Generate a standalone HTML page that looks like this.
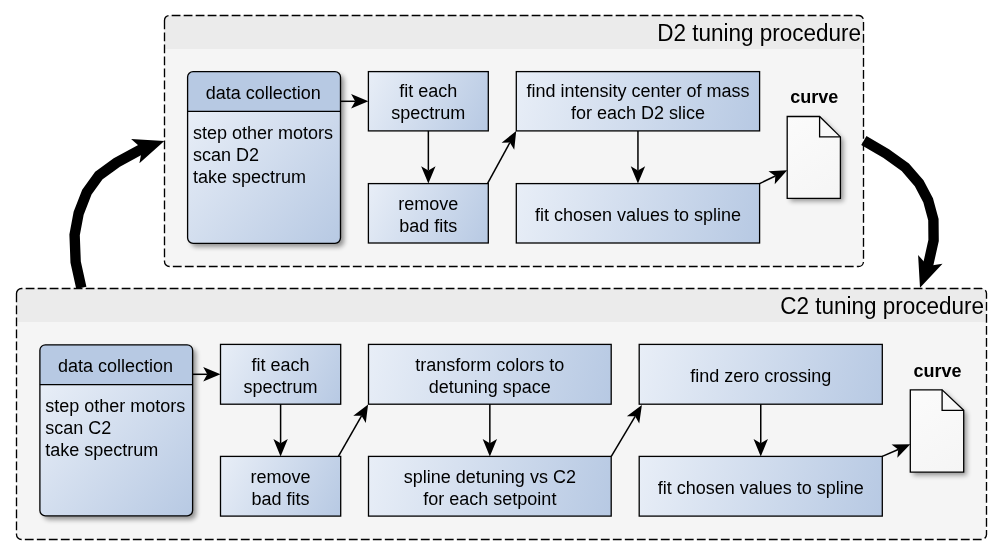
<!DOCTYPE html>
<html><head><meta charset="utf-8"><title>D2/C2 tuning procedure</title>
<style>html,body{margin:0;padding:0;background:#fff;width:1002px;height:555px;overflow:hidden}svg{display:block;will-change:transform}text{fill:#000}</style>
</head><body>
<svg width="1002" height="555" viewBox="0 0 1002 555" font-family="'Liberation Sans', sans-serif">
<defs>
<filter id="sh" x="-20%" y="-20%" width="140%" height="140%"><feGaussianBlur stdDeviation="2.8"/></filter>
<linearGradient id="g1" gradientUnits="userSpaceOnUse" x1="187.6" y1="111.3" x2="340.5" y2="243.3"><stop offset="0" stop-color="#E8EEF7"/><stop offset="1" stop-color="#B7C9E3"/></linearGradient><linearGradient id="g2" gradientUnits="userSpaceOnUse" x1="368.4" y1="71.6" x2="488.3" y2="130.9"><stop offset="0" stop-color="#E8EEF7"/><stop offset="1" stop-color="#B7C9E3"/></linearGradient><linearGradient id="g3" gradientUnits="userSpaceOnUse" x1="368.4" y1="183.6" x2="488.3" y2="243.0"><stop offset="0" stop-color="#E8EEF7"/><stop offset="1" stop-color="#B7C9E3"/></linearGradient><linearGradient id="g4" gradientUnits="userSpaceOnUse" x1="516.3" y1="71.6" x2="759.6" y2="130.9"><stop offset="0" stop-color="#E8EEF7"/><stop offset="1" stop-color="#B7C9E3"/></linearGradient><linearGradient id="g5" gradientUnits="userSpaceOnUse" x1="516.3" y1="183.6" x2="759.6" y2="243.0"><stop offset="0" stop-color="#E8EEF7"/><stop offset="1" stop-color="#B7C9E3"/></linearGradient><linearGradient id="g6" gradientUnits="userSpaceOnUse" x1="787.2" y1="116.5" x2="840.4" y2="198.3"><stop offset="0" stop-color="#FBFBFB"/><stop offset="1" stop-color="#F5F5F5"/></linearGradient><linearGradient id="g7" gradientUnits="userSpaceOnUse" x1="39.9" y1="384.6" x2="192.6" y2="515.9"><stop offset="0" stop-color="#E8EEF7"/><stop offset="1" stop-color="#B7C9E3"/></linearGradient><linearGradient id="g8" gradientUnits="userSpaceOnUse" x1="220.5" y1="344.4" x2="340.7" y2="404.2"><stop offset="0" stop-color="#E8EEF7"/><stop offset="1" stop-color="#B7C9E3"/></linearGradient><linearGradient id="g9" gradientUnits="userSpaceOnUse" x1="220.5" y1="456.4" x2="340.7" y2="516.1"><stop offset="0" stop-color="#E8EEF7"/><stop offset="1" stop-color="#B7C9E3"/></linearGradient><linearGradient id="g10" gradientUnits="userSpaceOnUse" x1="368.5" y1="344.4" x2="611.2" y2="404.2"><stop offset="0" stop-color="#E8EEF7"/><stop offset="1" stop-color="#B7C9E3"/></linearGradient><linearGradient id="g11" gradientUnits="userSpaceOnUse" x1="368.5" y1="456.4" x2="611.2" y2="516.1"><stop offset="0" stop-color="#E8EEF7"/><stop offset="1" stop-color="#B7C9E3"/></linearGradient><linearGradient id="g12" gradientUnits="userSpaceOnUse" x1="639.2" y1="344.4" x2="882.3" y2="404.2"><stop offset="0" stop-color="#E8EEF7"/><stop offset="1" stop-color="#B7C9E3"/></linearGradient><linearGradient id="g13" gradientUnits="userSpaceOnUse" x1="639.2" y1="456.4" x2="882.3" y2="516.1"><stop offset="0" stop-color="#E8EEF7"/><stop offset="1" stop-color="#B7C9E3"/></linearGradient><linearGradient id="g14" gradientUnits="userSpaceOnUse" x1="910.3" y1="389.8" x2="963.7" y2="472.2"><stop offset="0" stop-color="#FBFBFB"/><stop offset="1" stop-color="#F5F5F5"/></linearGradient>
</defs>

<rect x="164.5" y="15.5" width="699.0" height="251.0" rx="5" fill="#F5F5F5"/>
<path d="M164.5,49 L164.5,20.5 A5,5 0 0 1 169.5,15.5 L858.5,15.5 A5,5 0 0 1 863.5,20.5 L863.5,49 Z" fill="#EBEBEB"/>
<text transform="translate(861.0,40.8) scale(1,1.09)" text-anchor="end" font-size="22.5">D2 tuning procedure</text>
<rect x="16.5" y="288.5" width="970.0" height="251.0" rx="5" fill="#F5F5F5"/>
<path d="M16.5,322 L16.5,293.5 A5,5 0 0 1 21.5,288.5 L981.5,288.5 A5,5 0 0 1 986.5,293.5 L986.5,322 Z" fill="#EBEBEB"/>
<text transform="translate(984.0,313.8) scale(1,1.09)" text-anchor="end" font-size="22.5">C2 tuning procedure</text>
<rect x="191.1" y="75.1" width="152.9" height="171.70000000000002" rx="5.5" fill="#000" opacity="0.42" filter="url(#sh)"/>
<rect x="187.6" y="71.6" width="152.9" height="171.70000000000002" rx="5.5" fill="url(#g1)"/>
<path d="M187.6,111.3 L187.6,77.1 A5.5,5.5 0 0 1 193.1,71.6 L335.0,71.6 A5.5,5.5 0 0 1 340.5,77.1 L340.5,111.3 Z" fill="#B7C9E3"/>
<line x1="187.6" y1="111.3" x2="340.5" y2="111.3" stroke="#000" stroke-width="1.3"/>
<rect x="187.6" y="71.6" width="152.9" height="171.70000000000002" rx="5.5" fill="none" stroke="#000" stroke-width="1.3"/>
<text x="263.35" y="98.50" text-anchor="middle" font-size="18">data collection</text>
<text x="192.9" y="138.70" font-size="18">step other motors</text>
<text x="192.9" y="160.65" font-size="18">scan D2</text>
<text x="192.9" y="182.60" font-size="18">take spectrum</text>
<rect x="368.4" y="71.6" width="119.90000000000003" height="59.30000000000001" fill="url(#g2)" stroke="#000" stroke-width="1.3"/>
<text x="428.35" y="97.05" text-anchor="middle" font-size="18">fit each</text>
<text x="428.35" y="118.95" text-anchor="middle" font-size="18">spectrum</text>
<rect x="368.4" y="183.6" width="119.90000000000003" height="59.400000000000006" fill="url(#g3)" stroke="#000" stroke-width="1.3"/>
<text x="428.35" y="209.60" text-anchor="middle" font-size="18">remove</text>
<text x="428.35" y="231.50" text-anchor="middle" font-size="18">bad fits</text>
<rect x="516.3" y="71.6" width="243.30000000000007" height="59.30000000000001" fill="url(#g4)" stroke="#000" stroke-width="1.3"/>
<text x="637.95" y="97.05" text-anchor="middle" font-size="18">find intensity center of mass</text>
<text x="637.95" y="118.95" text-anchor="middle" font-size="18">for each D2 slice</text>
<rect x="516.3" y="183.6" width="243.30000000000007" height="59.400000000000006" fill="url(#g5)" stroke="#000" stroke-width="1.3"/>
<text x="637.95" y="220.80" text-anchor="middle" font-size="18">fit chosen values to spline</text>
<path d="M787.2,116.5 L819.6,116.5 L840.4,136.9 L840.4,198.3 L787.2,198.3 Z" transform="translate(3,3)" fill="#000" opacity="0.4" filter="url(#sh)"/>
<path d="M787.2,116.5 L819.6,116.5 L840.4,136.9 L840.4,198.3 L787.2,198.3 Z" fill="url(#g6)" stroke="#000" stroke-width="1.3" stroke-linejoin="miter"/>
<path d="M819.6,116.5 L819.6,136.9 L840.4,136.9" fill="none" stroke="#000" stroke-width="1.3"/>
<text x="814.3" y="102.5" text-anchor="middle" font-size="18" font-weight="bold">curve</text>
<path d="M368.40,101.30 L351.10,108.50 L355.20,101.30 L351.10,94.10 Z" fill="#000"/>
<path d="M340.50,101.30 L355.20,101.30" fill="none" stroke="#000" stroke-width="1.5"/>
<path d="M428.35,183.60 L421.15,166.30 L428.35,170.40 L435.55,166.30 Z" fill="#000"/>
<path d="M428.35,130.90 L428.35,170.40" fill="none" stroke="#000" stroke-width="1.5"/>
<path d="M516.20,131.00 L514.22,149.63 L509.87,142.58 L501.58,142.72 Z" fill="#000"/>
<path d="M487.60,183.30 L509.87,142.58" fill="none" stroke="#000" stroke-width="1.5"/>
<path d="M637.95,183.60 L630.75,166.30 L637.95,170.40 L645.15,166.30 Z" fill="#000"/>
<path d="M637.95,130.90 L637.95,170.40" fill="none" stroke="#000" stroke-width="1.5"/>
<path d="M787.20,170.30 L774.74,184.30 L775.31,176.03 L768.49,171.32 Z" fill="#000"/>
<path d="M759.60,183.60 L775.31,176.03" fill="none" stroke="#000" stroke-width="1.5"/>
<rect x="43.4" y="348.3" width="152.7" height="171.09999999999997" rx="5.5" fill="#000" opacity="0.42" filter="url(#sh)"/>
<rect x="39.9" y="344.8" width="152.7" height="171.09999999999997" rx="5.5" fill="url(#g7)"/>
<path d="M39.9,384.6 L39.9,350.3 A5.5,5.5 0 0 1 45.4,344.8 L187.1,344.8 A5.5,5.5 0 0 1 192.6,350.3 L192.6,384.6 Z" fill="#B7C9E3"/>
<line x1="39.9" y1="384.6" x2="192.6" y2="384.6" stroke="#000" stroke-width="1.3"/>
<rect x="39.9" y="344.8" width="152.7" height="171.09999999999997" rx="5.5" fill="none" stroke="#000" stroke-width="1.3"/>
<text x="115.55" y="371.80" text-anchor="middle" font-size="18">data collection</text>
<text x="45.199999999999996" y="412.00" font-size="18">step other motors</text>
<text x="45.199999999999996" y="433.95" font-size="18">scan C2</text>
<text x="45.199999999999996" y="455.90" font-size="18">take spectrum</text>
<rect x="220.5" y="344.4" width="120.19999999999999" height="59.80000000000001" fill="url(#g8)" stroke="#000" stroke-width="1.3"/>
<text x="280.6" y="371.00" text-anchor="middle" font-size="18">fit each</text>
<text x="280.6" y="392.90" text-anchor="middle" font-size="18">spectrum</text>
<rect x="220.5" y="456.4" width="120.19999999999999" height="59.700000000000045" fill="url(#g9)" stroke="#000" stroke-width="1.3"/>
<text x="280.6" y="482.95" text-anchor="middle" font-size="18">remove</text>
<text x="280.6" y="504.85" text-anchor="middle" font-size="18">bad fits</text>
<rect x="368.5" y="344.4" width="242.70000000000005" height="59.80000000000001" fill="url(#g10)" stroke="#000" stroke-width="1.3"/>
<text x="489.85" y="371.00" text-anchor="middle" font-size="18">transform colors to</text>
<text x="489.85" y="392.90" text-anchor="middle" font-size="18">detuning space</text>
<rect x="368.5" y="456.4" width="242.70000000000005" height="59.700000000000045" fill="url(#g11)" stroke="#000" stroke-width="1.3"/>
<text x="489.85" y="482.65" text-anchor="middle" font-size="18">spline detuning vs C2</text>
<text x="489.85" y="504.55" text-anchor="middle" font-size="18">for each setpoint</text>
<rect x="639.2" y="344.4" width="243.0999999999999" height="59.80000000000001" fill="url(#g12)" stroke="#000" stroke-width="1.3"/>
<text x="760.75" y="381.80" text-anchor="middle" font-size="18">find zero crossing</text>
<rect x="639.2" y="456.4" width="243.0999999999999" height="59.700000000000045" fill="url(#g13)" stroke="#000" stroke-width="1.3"/>
<text x="760.75" y="493.75" text-anchor="middle" font-size="18">fit chosen values to spline</text>
<path d="M910.3,389.8 L942.1,389.8 L963.7,410.4 L963.7,472.2 L910.3,472.2 Z" transform="translate(3,3)" fill="#000" opacity="0.4" filter="url(#sh)"/>
<path d="M910.3,389.8 L942.1,389.8 L963.7,410.4 L963.7,472.2 L910.3,472.2 Z" fill="url(#g14)" stroke="#000" stroke-width="1.3" stroke-linejoin="miter"/>
<path d="M942.1,389.8 L942.1,410.4 L963.7,410.4" fill="none" stroke="#000" stroke-width="1.3"/>
<text x="937.5" y="376.8" text-anchor="middle" font-size="18" font-weight="bold">curve</text>
<path d="M220.50,374.30 L203.20,381.50 L207.30,374.30 L203.20,367.10 Z" fill="#000"/>
<path d="M192.60,374.30 L207.30,374.30" fill="none" stroke="#000" stroke-width="1.5"/>
<path d="M280.60,456.40 L273.40,439.10 L280.60,443.20 L287.80,439.10 Z" fill="#000"/>
<path d="M280.60,404.20 L280.60,443.20" fill="none" stroke="#000" stroke-width="1.5"/>
<path d="M368.10,404.40 L365.77,422.99 L361.55,415.86 L353.27,415.85 Z" fill="#000"/>
<path d="M338.40,456.40 L361.55,415.86" fill="none" stroke="#000" stroke-width="1.5"/>
<path d="M489.85,456.40 L482.65,439.10 L489.85,443.20 L497.05,439.10 Z" fill="#000"/>
<path d="M489.85,404.20 L489.85,443.20" fill="none" stroke="#000" stroke-width="1.5"/>
<path d="M641.90,405.00 L639.24,423.55 L635.15,416.34 L626.86,416.18 Z" fill="#000"/>
<path d="M611.30,456.40 L635.15,416.34" fill="none" stroke="#000" stroke-width="1.5"/>
<path d="M760.75,456.40 L753.55,439.10 L760.75,443.20 L767.95,439.10 Z" fill="#000"/>
<path d="M760.75,404.20 L760.75,443.20" fill="none" stroke="#000" stroke-width="1.5"/>
<path d="M910.30,444.20 L897.32,457.71 L898.20,449.47 L891.56,444.51 Z" fill="#000"/>
<path d="M882.30,456.40 L898.20,449.47" fill="none" stroke="#000" stroke-width="1.5"/>
<path d="M164.5,20.5 L164.5,261.5 A5,5 0 0 0 169.5,266.5 L858.5,266.5 A5,5 0 0 0 863.5,261.5 L863.5,20.5 A5,5 0 0 0 858.5,15.5 L169.5,15.5 A5,5 0 0 0 164.5,20.5" fill="none" stroke="#000" stroke-width="1.35" stroke-dasharray="8.8 3.2" stroke-dashoffset="0"/>
<path d="M16.5,293.5 L16.5,534.5 A5,5 0 0 0 21.5,539.5 L981.5,539.5 A5,5 0 0 0 986.5,534.5 L986.5,293.5 A5,5 0 0 0 981.5,288.5 L21.5,288.5 A5,5 0 0 0 16.5,293.5" fill="none" stroke="#000" stroke-width="1.35" stroke-dasharray="8.8 3.2" stroke-dashoffset="0"/>
<path d="M863.85,140.45 L886.20,153.50 L905.40,167.30 L919.15,183.25 L928.10,200.25 L933.40,219.60 L933.60,240.50 L927.86,266.07 L926.15,270.77" fill="none" stroke="#000" stroke-width="10.4" stroke-linejoin="miter" stroke-miterlimit="10"/>
<path d="M920.00,287.70 L918.10,254.90 L927.86,266.07 L942.50,263.80 Z" fill="#000"/>
<path d="M81.35,287.85 L75.65,262.15 L74.60,234.85 L78.65,213.25 L86.80,192.30 L98.90,175.55 L116.50,162.70 L142.13,148.72 L146.85,147.06" fill="none" stroke="#000" stroke-width="10.4" stroke-linejoin="miter" stroke-miterlimit="10"/>
<path d="M164.30,140.90 L131.10,139.10 L142.13,148.72 L139.40,163.20 Z" fill="#000"/>
</svg>
</body></html>
